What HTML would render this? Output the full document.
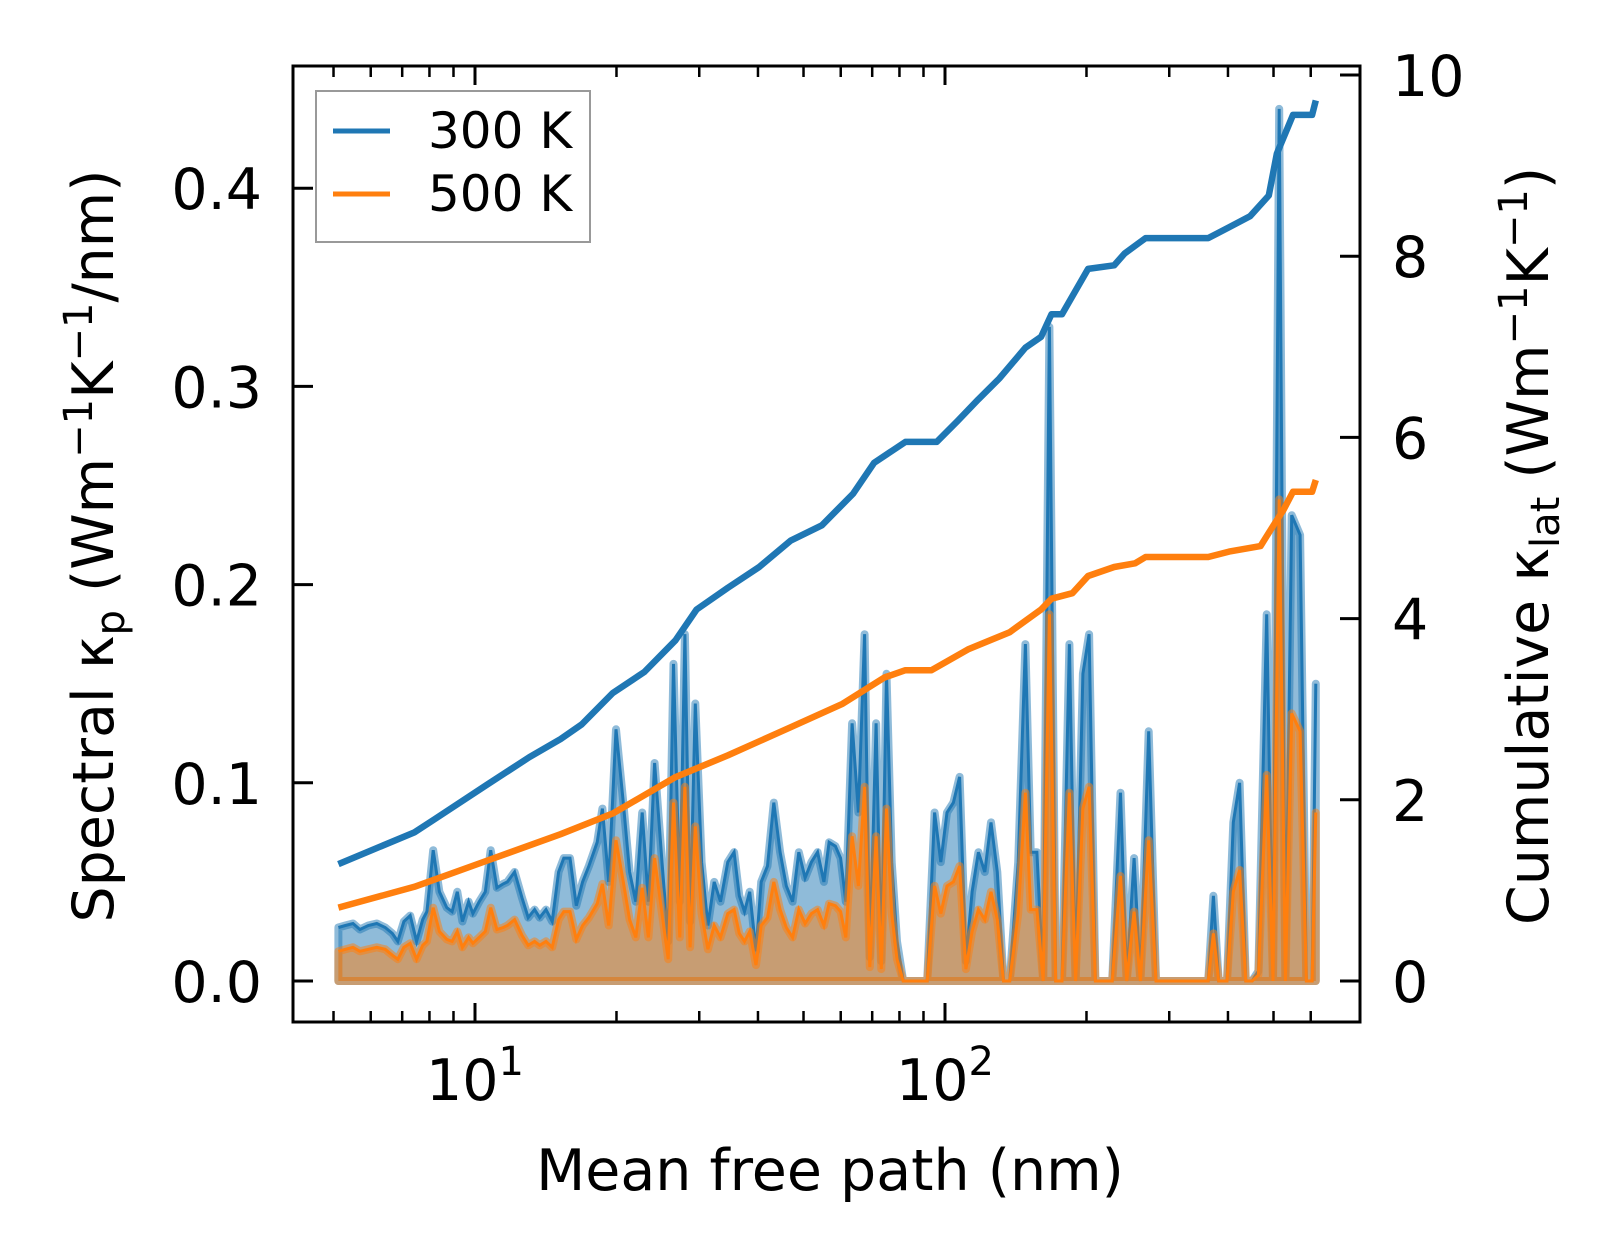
<!DOCTYPE html>
<html><head><meta charset="utf-8"><style>
html,body{margin:0;padding:0;background:#fff;}
svg{display:block;font-family:"DejaVu Sans","Liberation Sans",sans-serif;}
</style></head><body>
<svg id="chart" width="1623" height="1260" viewBox="0 0 1623 1260">
<g id="fills"></g>
<g id="lines"></g>
<g id="axes"></g>
<g id="legend">
<rect x="316" y="91" width="274" height="151" fill="#fff" fill-opacity="0.8" stroke="#999" stroke-width="2"/>
<line x1="333" y1="131" x2="390" y2="131" stroke="#1f77b4" stroke-width="5"/>
<text x="428" y="148" font-size="50">300 K</text>
<line x1="333" y1="194" x2="390" y2="194" stroke="#ff7f0e" stroke-width="5"/>
<text x="428" y="211" font-size="50">500 K</text>
</g>
<text x="830" y="1190" font-size="57" text-anchor="middle">Mean free path (nm)</text>
<text transform="translate(113,546) rotate(-90)" font-size="57" text-anchor="middle">Spectral κ<tspan font-size="40" dy="11">p</tspan><tspan dy="-11"> (Wm</tspan><tspan font-size="40" dy="-21">−1</tspan><tspan dy="21">K</tspan><tspan font-size="40" dy="-21">−1</tspan><tspan dy="21">/nm)</tspan></text>
<text transform="translate(1548,546) rotate(-90)" font-size="57" text-anchor="middle">Cumulative κ<tspan font-size="40" dy="11">lat</tspan><tspan dy="-11"> (Wm</tspan><tspan font-size="40" dy="-21">−1</tspan><tspan dy="21">K</tspan><tspan font-size="40" dy="-21">−1</tspan><tspan dy="21">)</tspan></text>
</svg>
<script>
const mfp = [5.12,5.30,5.50,5.69,5.93,6.18,6.44,6.67,6.85,7.06,7.28,7.51,7.74,7.90,8.15,8.40,8.71,8.94,9.17,9.40,9.69,9.90,10.21,10.52,10.80,11.13,11.48,11.72,12.14,12.59,12.98,13.39,13.73,14.16,14.60,15.06,15.45,15.93,16.43,16.94,17.47,18.20,18.67,19.25,19.95,20.68,21.33,21.99,22.68,23.38,24.11,24.99,25.77,26.44,27.27,27.97,28.69,29.43,30.35,31.30,32.28,33.29,34.50,35.58,36.50,37.45,38.42,39.61,40.64,41.91,43.22,44.57,45.96,47.39,48.87,50.39,51.96,53.58,55.25,56.68,58.45,59.96,61.52,63.43,65.41,67.45,69.18,71.34,73.19,75.09,77.03,79.03,81.49,84.46,87.54,91.67,95.01,97.97,101.0,104.2,107.4,110.8,114.2,117.8,121.5,125.3,129.2,133.2,137.3,143.1,148.3,152.2,156.9,161.8,166.8,172.0,177.4,183.9,189.6,196.5,202.6,208.9,217.6,226.8,236.3,243.6,252.5,260.4,271.3,281.2,363.1,372.5,382.2,398.1,410.5,423.4,436.5,450.2,464.2,483.6,498.7,514.1,530.1,546.7,569.5,587.3,604.0,615.0];
const spec300 = [.027,.028,.029,.026,.028,.029,.027,.024,.020,.030,.033,.020,.031,.035,.066,.045,.037,.035,.045,.030,.040,.034,.040,.045,.066,.047,.049,.050,.055,.042,.032,.036,.032,.036,.030,.055,.062,.062,.038,.050,.058,.070,.087,.050,.127,.090,.055,.040,.085,.040,.110,.060,.020,.160,.040,.175,.030,.140,.060,.028,.050,.040,.060,.065,.043,.035,.045,.015,.050,.058,.090,.065,.048,.040,.065,.052,.060,.065,.050,.070,.068,.062,.040,.130,.085,.175,.012,.130,.010,.155,.060,.020,0,0,0,0,.085,.060,.085,.090,.103,.010,.045,.065,.055,.080,.055,0,0,.060,.170,.065,.065,0,.330,0,0,.170,0,.155,.175,0,0,0,.095,0,.062,0,.126,0,0,.043,0,0,.080,.100,0,0,.005,.185,0,.440,0,.235,.225,0,0,.150];
const spec500 = [.015,.016,.017,.015,.016,.017,.016,.013,.011,.017,.019,.011,.018,.020,.037,.025,.021,.020,.025,.017,.022,.019,.022,.025,.037,.026,.027,.028,.031,.023,.018,.020,.018,.020,.017,.031,.035,.035,.021,.028,.032,.039,.049,.028,.071,.050,.031,.022,.047,.022,.062,.034,.011,.090,.022,.098,.017,.078,.034,.016,.028,.022,.034,.036,.024,.020,.025,.008,.028,.032,.050,.036,.027,.022,.036,.029,.034,.036,.028,.039,.038,.035,.022,.073,.048,.098,.007,.073,.006,.087,.034,.011,0,0,0,0,.048,.034,.048,.050,.058,.006,.025,.036,.031,.045,.031,0,0,.034,.095,.036,.036,0,.185,0,0,.095,0,.087,.098,0,0,0,.053,0,.035,0,.071,0,0,.024,0,0,.045,.056,0,0,.003,.104,0,.243,0,.135,.126,0,0,.085];
const cum300X = [5.12,7.43,8.23,10.63,13.05,15.21,16.85,19.65,22.91,26.71,29.61,34.50,40.24,46.92,54.71,63.79,70.64,82.36,96.0,106.3,117.8,130.5,148.3,160.1,168.5,177.4,201.6,229.1,241.1,267.2,363.1,402.2,445.6,488.7,508.0,550.0,604.0,615.0];
const cum300 = [1.29,1.64,1.79,2.17,2.47,2.67,2.83,3.18,3.41,3.76,4.10,4.34,4.57,4.86,5.03,5.38,5.72,5.95,5.95,6.18,6.42,6.65,6.99,7.11,7.36,7.36,7.86,7.90,8.03,8.20,8.20,8.32,8.44,8.67,9.13,9.56,9.56,9.72];
const cum500X = [5.12,7.43,10.63,15.21,19.65,26.71,34.50,46.92,60.55,74.32,82.36,93.6,111.9,137.3,160.1,168.5,186.7,201.6,229.1,253.8,267.2,363.1,402.2,469.0,500.0,525.0,550.0,604.0,615.0];
const cum500 = [0.81,1.04,1.33,1.62,1.85,2.25,2.49,2.80,3.06,3.35,3.43,3.43,3.66,3.85,4.10,4.22,4.28,4.47,4.57,4.61,4.68,4.68,4.74,4.80,5.03,5.20,5.40,5.40,5.53];
const leftTicks = [0.0,0.1,0.2,0.3,0.4];
const leftTickLabels = ["0.0","0.1","0.2","0.3","0.4"];
const rightTicks = [0,2,4,6,8,10];
const rightTickLabels = ["0","2","4","6","8","10"];
const xMajor = [10,100];
const xMajorExp = ["1","2"];
const xMinor = [5,6,7,8,9,20,30,40,50,60,70,80,90,200,300,400,500,600];

const NS="http://www.w3.org/2000/svg";
const L=293,R=1360,T=66,B=1022;
function sx(v){return 475+(Math.log10(v)-1)*470;}
function syL(v){return 981-v*1982;}
function syR(v){return 981-v*90.6;}
function mk(tag,attrs,parent){const e=document.createElementNS(NS,tag);for(const k in attrs)e.setAttribute(k,attrs[k]);parent.appendChild(e);return e;}
const fills=document.getElementById('fills'),lines=document.getElementById('lines'),axes=document.getElementById('axes');

function drawSpectral(vals,color,name){
  let d='M'+sx(mfp[0])+','+syL(0);
  for(let i=0;i<mfp.length;i++)d+=' L'+sx(mfp[i]).toFixed(1)+','+syL(vals[i]).toFixed(1);
  d+=' L'+sx(mfp[mfp.length-1])+','+syL(0)+' Z';
  const f=mk('path',{d:d,fill:color,'fill-opacity':0.5,stroke:color,'stroke-opacity':0.5,'stroke-width':8,'stroke-linejoin':'round'},fills);
  
  
  let p='';
  for(let i=0;i<mfp.length;i++)p+=(i?' L':'M')+sx(mfp[i]).toFixed(1)+','+syL(vals[i]).toFixed(1);
  const l=mk('path',{d:p,fill:'none',stroke:color,'stroke-width':3},fills);
  
  
}
drawSpectral(spec300,'#1f77b4','spectral-300k');
drawSpectral(spec500,'#ff7f0e','spectral-500k');

function drawCum(xs,vals,color,name){
  let p='';
  for(let i=0;i<xs.length;i++)p+=(i?' L':'M')+sx(xs[i]).toFixed(1)+','+syR(vals[i]).toFixed(1);
  const l=mk('path',{d:p,fill:'none',stroke:color,'stroke-width':6.5,'stroke-linejoin':'round'},lines);
  
  
}
drawCum(cum300X,cum300,'#1f77b4','cumulative-300k');
drawCum(cum500X,cum500,'#ff7f0e','cumulative-500k');

const frame=mk('rect',{x:L,y:T,width:R-L,height:B-T,fill:'none',stroke:'#000','stroke-width':3},axes);


leftTicks.forEach((v,i)=>{
  const y=syL(v);
  const t=mk('line',{x1:L,y1:y,x2:L+20,y2:y,stroke:'#000','stroke-width':3},axes);
  
  
  const tx=mk('text',{x:262,y:y+21,'font-size':57,'text-anchor':'end'},axes);
  tx.textContent=leftTickLabels[i];
  
  
});
rightTicks.forEach((v,i)=>{
  const y=syR(v);
  const t=mk('line',{x1:R-20,y1:y,x2:R,y2:y,stroke:'#000','stroke-width':3},axes);
  
  
  const tx=mk('text',{x:1392,y:y+21,'font-size':57},axes);
  tx.textContent=rightTickLabels[i];
  
  
});
xMajor.forEach((v,i)=>{
  const x=sx(v);
  [[B,B-19],[T,T+19]].forEach(a=>{
    const t=mk('line',{x1:x,y1:a[0],x2:x,y2:a[1],stroke:'#000','stroke-width':3},axes);
    
    
  });
  const tx=mk('text',{x:x,y:1100,'font-size':57,'text-anchor':'middle'},axes);
  tx.textContent='10';
  const sp=mk('tspan',{'font-size':40,dy:-25},tx);
  sp.textContent=xMajorExp[i];
  
  
});
xMinor.forEach(v=>{
  const x=sx(v);
  [[B,B-11],[T,T+11]].forEach(a=>{
    const t=mk('line',{x1:x,y1:a[0],x2:x,y2:a[1],stroke:'#000','stroke-width':2.5},axes);
    
    
  });
});
</script>
</body></html>
